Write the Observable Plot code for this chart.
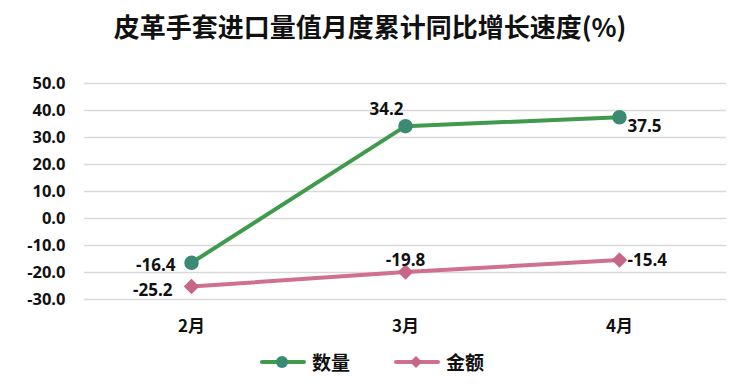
<!DOCTYPE html>
<html><head><meta charset="utf-8">
<script src="https://cdn.jsdelivr.net/npm/d3@7"></script>
<script src="https://cdn.jsdelivr.net/npm/@observablehq/plot@0.6"></script>
<style>
body{margin:0;background:#fff;font-family:"Open Sans","Noto Sans CJK SC",sans-serif;}
#title{height:60px;line-height:52px;text-align:center;font-size:26px;font-weight:bold;color:#111;padding-right:10px;box-sizing:border-box;font-family:"Noto Sans CJK SC",sans-serif;}
#legend{display:flex;justify-content:center;align-items:center;gap:44px;font-size:19px;font-weight:bold;font-family:"Noto Sans CJK SC",sans-serif;padding-right:6px;margin-top:8px;color:#111;}
.item{display:flex;align-items:center;gap:6px;}
</style></head>
<body>
<div id="title">皮革手套进口量值月度累计同比增长速度(%)</div>
<div id="chart"></div>
<div id="legend"></div>
<script>
const months = ["2月", "3月", "4月"];
const quantity = [-16.4, 34.2, 37.5];
const amount = [-25.2, -19.8, -15.4];
const yTicks = [50, 40, 30, 20, 10, 0, -10, -20, -30];
const seriesNames = ["数量", "金额"];

const green = "#3f9a4e", greenMarker = "#3b8a73", pink = "#cf7090", pinkMarker = "#c8668a";
const qData = months.map((m, i) => ({m, v: quantity[i], i}));
const aData = months.map((m, i) => ({m, v: amount[i], i}));
const lbl = {fontSize: 17, fontWeight: "bold", fill: "#111", text: d => d.v.toFixed(1)};

const chart = Plot.plot({
  width: 750, height: 280,
  marginLeft: 84, marginRight: 24, marginTop: 23, marginBottom: 41,
  style: {fontFamily: "'Open Sans', 'Noto Sans CJK SC', sans-serif", color: "#111"},
  x: {type: "point", domain: months, padding: 0.5, label: null},
  y: {domain: [-30, 50], ticks: yTicks, label: null},
  marks: [
    Plot.gridY(yTicks, {stroke: "#d9d9d9", strokeOpacity: 1, strokeWidth: 1.3}),
    Plot.axisY(yTicks, {tickSize: 0, tickPadding: 19, tickFormat: d => d.toFixed(1), fontSize: 16.5, fontWeight: "bold", label: null}),
    Plot.axisX({tickSize: 0, tickPadding: 20, fontSize: 17, fontWeight: "bold", label: null, fontFamily: "'Noto Sans CJK SC', sans-serif"}),
    Plot.line(aData, {x: "m", y: "v", stroke: pink, strokeWidth: 4}),
    Plot.dot(aData, {x: "m", y: "v", symbol: "diamond2", r: 6, fill: pinkMarker, stroke: pinkMarker}),
    Plot.line(qData, {x: "m", y: "v", stroke: green, strokeWidth: 4}),
    Plot.dot(qData, {x: "m", y: "v", r: 6.5, fill: greenMarker, stroke: greenMarker}),
    Plot.text(qData.filter(d => d.i === 0), {...lbl, x: "m", y: "v", textAnchor: "end", dx: -16, dy: 3}),
    Plot.text(qData.filter(d => d.i === 1), {...lbl, x: "m", y: "v", dx: -19, dy: -17}),
    Plot.text(qData.filter(d => d.i === 2), {...lbl, x: "m", y: "v", textAnchor: "start", dx: 8, dy: 9}),
    Plot.text(aData.filter(d => d.i === 0), {...lbl, x: "m", y: "v", textAnchor: "end", dx: -19, dy: 4}),
    Plot.text(aData.filter(d => d.i === 1), {...lbl, x: "m", y: "v", dx: 0, dy: -11}),
    Plot.text(aData.filter(d => d.i === 2), {...lbl, x: "m", y: "v", textAnchor: "start", dx: 8, dy: 0})
  ]
});
document.getElementById("chart").appendChild(chart);

const legend = document.getElementById("legend");
const items = [[seriesNames[0], green, greenMarker, "circle"], [seriesNames[1], pink, pinkMarker, "diamond"]];
for (const [name, c, mc, shape] of items) {
  const el = document.createElement("div"); el.className = "item";
  const marker = shape === "circle"
    ? `<circle cx="22" cy="7" r="6" fill="${mc}"/>`
    : `<path d="M22 1 L28 7 L22 13 L16 7Z" fill="${mc}"/>`;
  el.innerHTML = `<svg width="46" height="14"><line x1="2" x2="44" y1="7" y2="7" stroke="${c}" stroke-width="4" stroke-linecap="round"/>${marker}</svg><span>${name}</span>`;
  legend.appendChild(el);
}
</script>
</body></html>
